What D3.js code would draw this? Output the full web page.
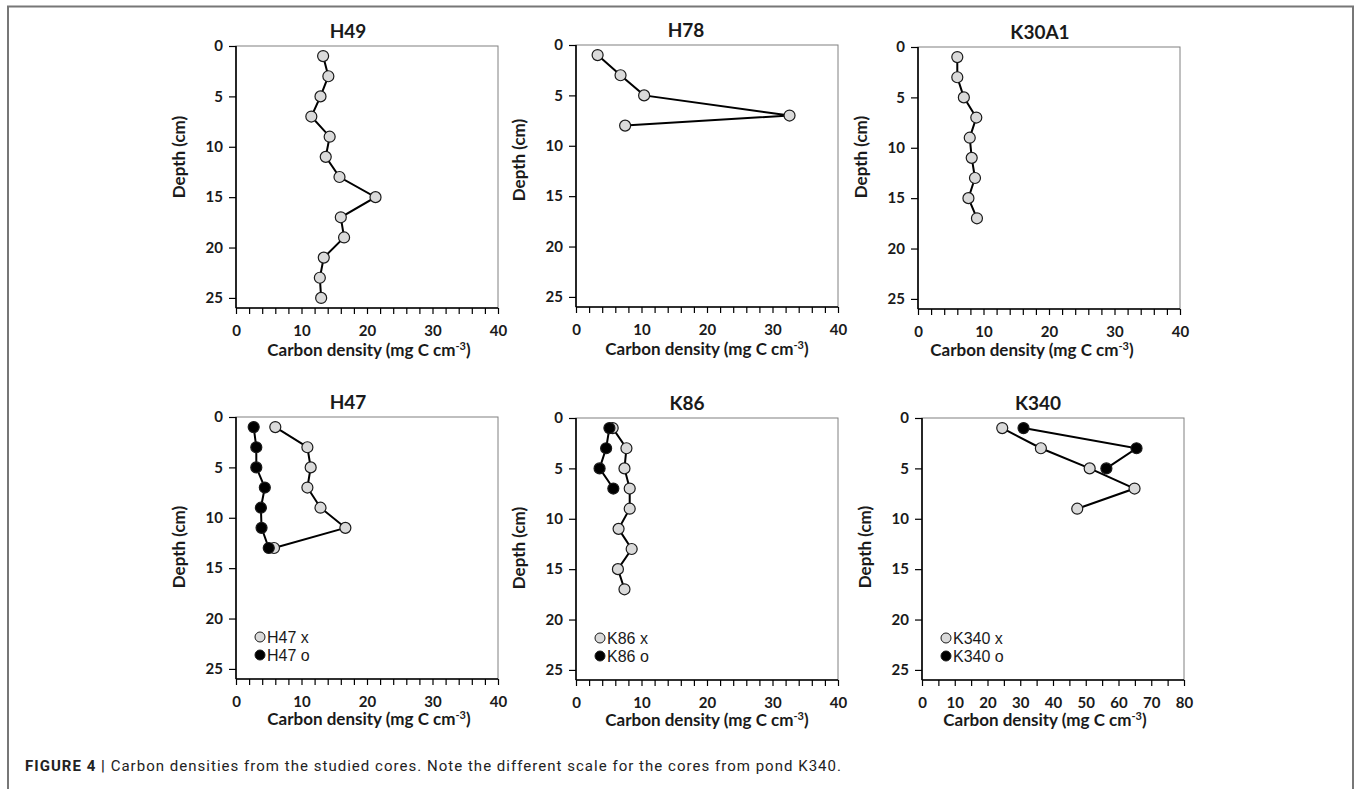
<!DOCTYPE html>
<html>
<head>
<meta charset="utf-8">
<script src="https://cdn.jsdelivr.net/npm/d3@7"></script>
<style>
  body { margin: 0; background: #fff; }
  svg text { fill: #1a1a1a; }
  .tick text { font-family: Lato, sans-serif; font-weight: 700; font-size: 15px; }
  .ttl { font-family: Lato, sans-serif; font-weight: 700; font-size: 19px; }
  .axt { font-family: Lato, sans-serif; font-weight: 700; font-size: 17px; }
  .leg { font-family: "Liberation Sans", Arial, sans-serif; font-size: 16px; }
  .cap { font-family: Roboto, sans-serif; font-size: 15px; fill: #222; }
</style>
</head>
<body>
<svg id="fig" width="1354" height="789"></svg>
<script>
// core names, depths (cm) and carbon density (mg C cm-3)
var cores = ['H49', 'H78', 'K30A1', 'H47', 'K86', 'K340'];

var h49Depth = [1, 3, 5, 7, 9, 11, 13, 15, 17, 19, 21, 23, 25],
    h49 = [13.3, 14.1, 12.9, 11.5, 14.3, 13.7, 15.8, 21.3, 16.0, 16.5, 13.4, 12.8, 13.0];

var h78Depth = [1, 3, 5, 7, 8],
    h78 = [3.3, 6.8, 10.4, 32.6, 7.5];

var k30Depth = [1, 3, 5, 7, 9, 11, 13, 15, 17],
    k30 = [6.0, 6.0, 7.0, 8.9, 7.9, 8.2, 8.7, 7.7, 9.0];

var h47Depth = [1, 3, 5, 7, 9, 11, 13],
    h47x = [6.0, 10.9, 11.4, 10.9, 12.9, 16.7, 5.8],
    h47o = [2.7, 3.1, 3.1, 4.4, 3.8, 3.9, 5.0];

var k86xDepth = [1, 3, 5, 7, 9, 11, 13, 15, 17],
    k86x = [5.6, 7.7, 7.4, 8.2, 8.2, 6.5, 8.5, 6.4, 7.4],
    k86oDepth = [1, 3, 5, 7],
    k86o = [5.1, 4.6, 3.6, 5.7];

var k340xDepth = [1, 3, 5, 7, 9],
    k340x = [24.5, 36.3, 51.2, 64.9, 47.4],
    k340oDepth = [1, 3, 5],
    k340o = [31.0, 65.5, 56.3];

var depthTicks = [0, 5, 10, 15, 20, 25],
    xTicks40 = [0, 10, 20, 30, 40],
    xTicks80 = [0, 10, 20, 30, 40, 50, 60, 70, 80];

var caption = 'Carbon densities from the studied cores. Note the different scale for the cores from pond K340.';

// panel layout
var pw = 262, ph = 262;
var panels = [
  {name: cores[0], left: 236, top: 46, xmax: 40, ticks: xTicks40, minor: 2, titleX: 348, ytY: 157, xtDx: 2, xtY: 310,
   series: [{d: h49Depth, v: h49, fill: '#dadada'}]},
  {name: cores[1], left: 576, top: 45, xmax: 40, ticks: xTicks40, minor: 2, titleX: 686, ytY: 160, xtDx: 0, xtY: 310,
   series: [{d: h78Depth, v: h78, fill: '#dadada'}]},
  {name: cores[2], left: 918, top: 47, xmax: 40, ticks: xTicks40, minor: 2, titleX: 1040, ytY: 157, xtDx: -17, xtY: 309,
   series: [{d: k30Depth, v: k30, fill: '#dadada'}]},
  {name: cores[3], left: 236, top: 417, xmax: 40, ticks: xTicks40, minor: 2, titleX: 348, ytY: 547, xtDx: 2, xtY: 308,
   series: [{d: h47Depth, v: h47x, fill: '#dadada'}, {d: h47Depth, v: h47o, fill: '#000'}],
   legend: ['H47 x', 'H47 o']},
  {name: cores[4], left: 576, top: 418, xmax: 40, ticks: xTicks40, minor: 2, titleX: 687, ytY: 548, xtDx: 0, xtY: 308,
   series: [{d: k86xDepth, v: k86x, fill: '#dadada'}, {d: k86oDepth, v: k86o, fill: '#000'}],
   legend: ['K86 x', 'K86 o']},
  {name: cores[5], left: 922, top: 418, xmax: 80, ticks: xTicks80, minor: 5, titleX: 1038, ytY: 547, xtDx: -8, xtY: 308,
   series: [{d: k340xDepth, v: k340x, fill: '#dadada'}, {d: k340oDepth, v: k340o, fill: '#000'}],
   legend: ['K340 x', 'K340 o']}
];

var svg = d3.select('#fig');

// frame round the figure
svg.append('path')
    .attr('d', 'M8,790 V6.5 H1353 V790')
    .attr('fill', 'none')
    .attr('stroke', '#777')
    .attr('stroke-width', 2);

panels.forEach(function(p) {
  var x = d3.scaleLinear().domain([0, p.xmax]).range([0, pw]);
  var y = d3.scaleLinear().domain([0, 26]).range([0, ph]);
  var g = svg.append('g').attr('transform', 'translate(' + p.left + ',' + p.top + ')');

  // plot box
  g.append('rect')
      .attr('width', pw).attr('height', ph)
      .attr('fill', 'none').attr('stroke', '#808080').attr('stroke-width', 1);

  var minorTicks = d3.range(0, p.xmax + 0.001, p.minor);
  var xAxis = d3.axisBottom(x)
      .tickValues(minorTicks)
      .tickSize(6)
      .tickFormat(function(d) { return p.ticks.indexOf(d) >= 0 ? d : ''; });
  var gx = g.append('g').attr('transform', 'translate(0,' + ph + ')').call(xAxis);
  gx.selectAll('.tick text').attr('dy', 0).attr('y', 28);

  var yAxis = d3.axisLeft(y).tickValues(depthTicks).tickSize(7).tickPadding(6);
  var gy = g.append('g').call(yAxis);

  [gx, gy].forEach(function(a) {
    a.select('.domain').attr('stroke', '#000').attr('stroke-width', 1.6);
    a.selectAll('.tick line').attr('stroke', '#000').attr('stroke-width', 1.2);
  });
  gx.select('.domain').attr('d', 'M0,0H' + pw);
  gy.select('.domain').attr('d', 'M0,0V' + ph);

  // title
  svg.append('text').attr('class', 'ttl')
      .attr('x', p.titleX).attr('y', p.top - 8)
      .attr('text-anchor', 'middle').text(p.name);

  // axis titles
  svg.append('text').attr('class', 'axt')
      .attr('transform', 'translate(' + (p.left - 51) + ',' + p.ytY + ') rotate(-90)')
      .attr('text-anchor', 'middle').text('Depth (cm)');

  var xt = svg.append('text').attr('class', 'axt')
      .attr('x', p.left + pw / 2 + p.xtDx).attr('y', p.top + p.xtY)
      .attr('text-anchor', 'middle');
  xt.append('tspan').text('Carbon density (mg C cm');
  xt.append('tspan').attr('dy', -6).style('font-size', '11px').text('-3');
  xt.append('tspan').attr('dy', 6).text(')');

  // series
  var line = d3.line()
      .x(function(d) { return x(d[0]); })
      .y(function(d) { return y(d[1]); });

  p.series.forEach(function(s) {
    var pts = s.v.map(function(v, i) { return [v, s.d[i]]; });
    g.append('path').datum(pts)
        .attr('d', line)
        .attr('fill', 'none').attr('stroke', '#000').attr('stroke-width', 2);
    g.selectAll(null).data(pts).enter().append('circle')
        .attr('cx', function(d) { return x(d[0]); })
        .attr('cy', function(d) { return y(d[1]); })
        .attr('r', 5.5)
        .attr('fill', s.fill)
        .attr('stroke', '#1a1a1a').attr('stroke-width', 1.2);
  });

  // legend
  if (p.legend) {
    p.legend.forEach(function(lbl, i) {
      var cy = 220 + i * 18;
      g.append('circle')
          .attr('cx', 24).attr('cy', cy).attr('r', 5)
          .attr('fill', p.series[i].fill)
          .attr('stroke', '#1a1a1a').attr('stroke-width', 1);
      g.append('text').attr('class', 'leg')
          .attr('x', 31).attr('y', cy + 6).text(lbl);
    });
  }
});

// caption, spread to the width it has in the figure
var cap = svg.append('text').attr('class', 'cap').attr('x', 25).attr('y', 771);
cap.append('tspan').style('font-weight', 700).text('FIGURE 4 | ');
cap.append('tspan').text(caption);
var capLen = cap.node().getComputedTextLength(),
    capChars = ('FIGURE 4 | ' + caption).length;
cap.style('letter-spacing', ((842 - 25 - capLen) / capChars) + 'px');
</script>
</body>
</html>
